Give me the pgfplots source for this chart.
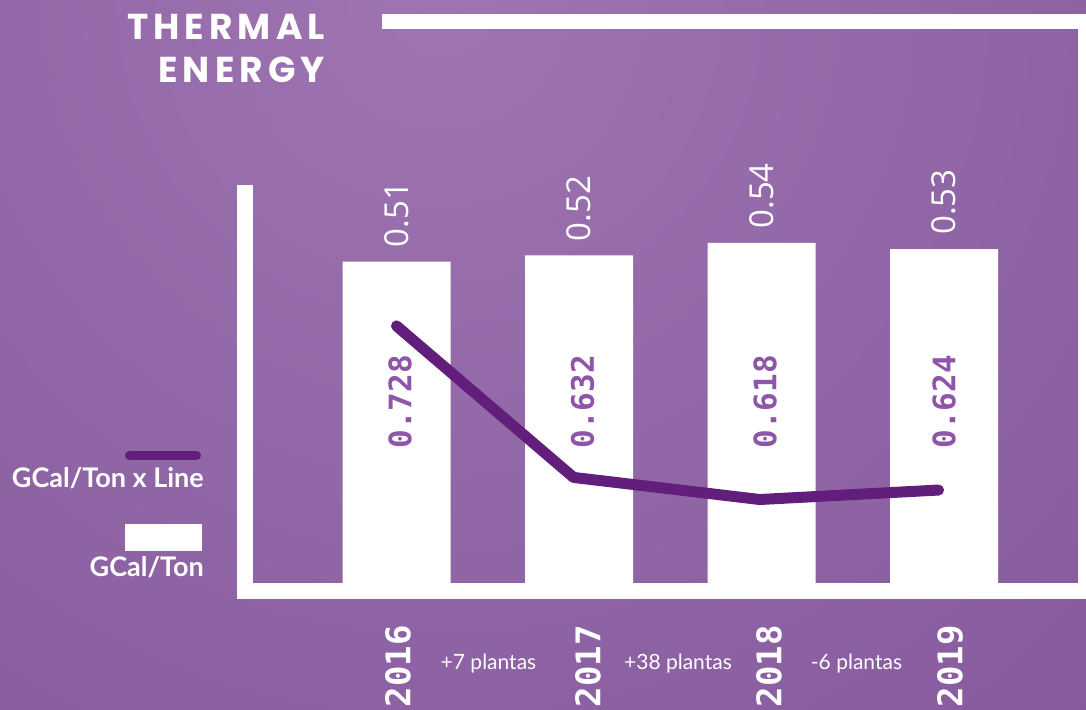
\documentclass[border=0pt]{standalone}
\usepackage{fontspec}
\setmainfont{Lato}
\usepackage{pgfplots}
\pgfplotsset{compat=1.18}
\newfontfamily\titlefont[LetterSpace=14]{Poppins}
\newfontfamily\slabfont{DejaVu Sans Mono}
\newfontfamily\valfont{Open Sans}
\definecolor{bgA}{HTML}{9E74B1}
\definecolor{bgB}{HTML}{683A85}
\definecolor{lineC}{HTML}{621E7B}
\definecolor{innerC}{HTML}{8F55A8}
\pgfdeclareradialshading{bgshade}{\pgfpoint{0bp}{0bp}}{color(0bp)=(bgA); color(50bp)=(bgB)}
\begin{document}
\begin{tikzpicture}
\clip (0pt,0pt) rectangle (1086pt,709pt);
\begin{scope}[x=1pt,y=1pt]
\fill[bgB] (0,0) rectangle (1086,709);
\shade[shading=bgshade] (440,709) circle (1100);
% frame
\fill[white] (237,110) rectangle (1086,126);
\fill[white] (237,110) rectangle (253,524);
\fill[white] (1078,110) rectangle (1086,695);
\fill[white] (382,680) rectangle (1086,695);
% title
\node[anchor=base east, inner sep=0pt, text=white, font=\titlefont\bfseries\fontsize{36}{40}\selectfont] at (325,669) {THERMAL};
\node[anchor=base east, inner sep=0pt, text=white, font=\titlefont\bfseries\fontsize{36}{40}\selectfont] at (325,626) {ENERGY};
% legend
\draw[lineC, line width=9pt, line cap=round] (129.5,253.5) -- (196.5,253.5);
\node[anchor=base east, inner sep=0pt, text=white, font=\bfseries\fontsize{27}{32}\selectfont] at (204,221) {GCal/Ton x Line};
\fill[white] (125,158) rectangle (202,185);
\node[anchor=base east, inner sep=0pt, text=white, font=\bfseries\fontsize{27}{32}\selectfont] at (204,132) {GCal/Ton};
% plantas
\node[anchor=base, inner sep=0pt, text=white, font=\fontsize{21}{25}\selectfont] at (488.5,39) {+7 plantas};
\node[anchor=base, inner sep=0pt, text=white, font=\fontsize{21}{25}\selectfont] at (678,39) {+38 plantas};
\node[anchor=base, inner sep=0pt, text=white, font=\fontsize{21}{25}\selectfont] at (856.5,39) {-6 plantas};
\end{scope}

\begin{axis}[at={(253pt,126pt)}, anchor=south west, scale only axis,
  width=825pt, height=398pt,
  xmin=-0.7863, xmax=3.7342, ymin=0, ymax=0.6317,
  axis line style={draw=none}, major tick length=0pt, ytick=\empty,
  xtick={0.008,1.049,2.041,3.033}, xticklabels={2016,2017,2018,2019},
  xticklabel style={rotate=90, anchor=east, inner sep=0pt, text=white,
    font=\slabfont\bfseries\fontsize{34}{40}\selectfont},
  xticklabel shift=42pt,
  clip=false, ybar, bar width=108pt,
  point meta=explicit symbolic,
  nodes near coords,
  nodes near coords style={rotate=90, anchor=west, inner xsep=14pt, inner ysep=0pt,
    text=white, font=\valfont\fontsize{33}{36}\selectfont},
]
\addplot[fill=white, draw=none] coordinates {(0,0.51) [0.51] (1,0.52) [0.52] (2,0.54) [0.54] (3,0.53) [0.53]};
\node[rotate=90, inner sep=0pt, text=innerC, font=\slabfont\bfseries\fontsize{31}{36}\selectfont] at (axis cs:0.02,0.2873) {0.728};
\node[rotate=90, inner sep=0pt, text=innerC, font=\slabfont\bfseries\fontsize{31}{36}\selectfont] at (axis cs:1.02,0.2873) {0.632};
\node[rotate=90, inner sep=0pt, text=innerC, font=\slabfont\bfseries\fontsize{31}{36}\selectfont] at (axis cs:2.02,0.2873) {0.618};
\node[rotate=90, inner sep=0pt, text=innerC, font=\slabfont\bfseries\fontsize{31}{36}\selectfont] at (axis cs:3.00,0.2873) {0.624};
\end{axis}

\begin{axis}[at={(253pt,126pt)}, anchor=south west, scale only axis,
  width=825pt, height=398pt,
  xmin=-0.7863, xmax=3.7342, ymin=0.5651, ymax=0.8173,
  hide axis, clip=false]
\addplot[lineC, line width=11pt, line cap=round, line join=round, mark=none]
  coordinates {(0,0.728) (0.97,0.632) (1.99,0.618) (2.97,0.624)};
\end{axis}
\end{tikzpicture}
\end{document}
